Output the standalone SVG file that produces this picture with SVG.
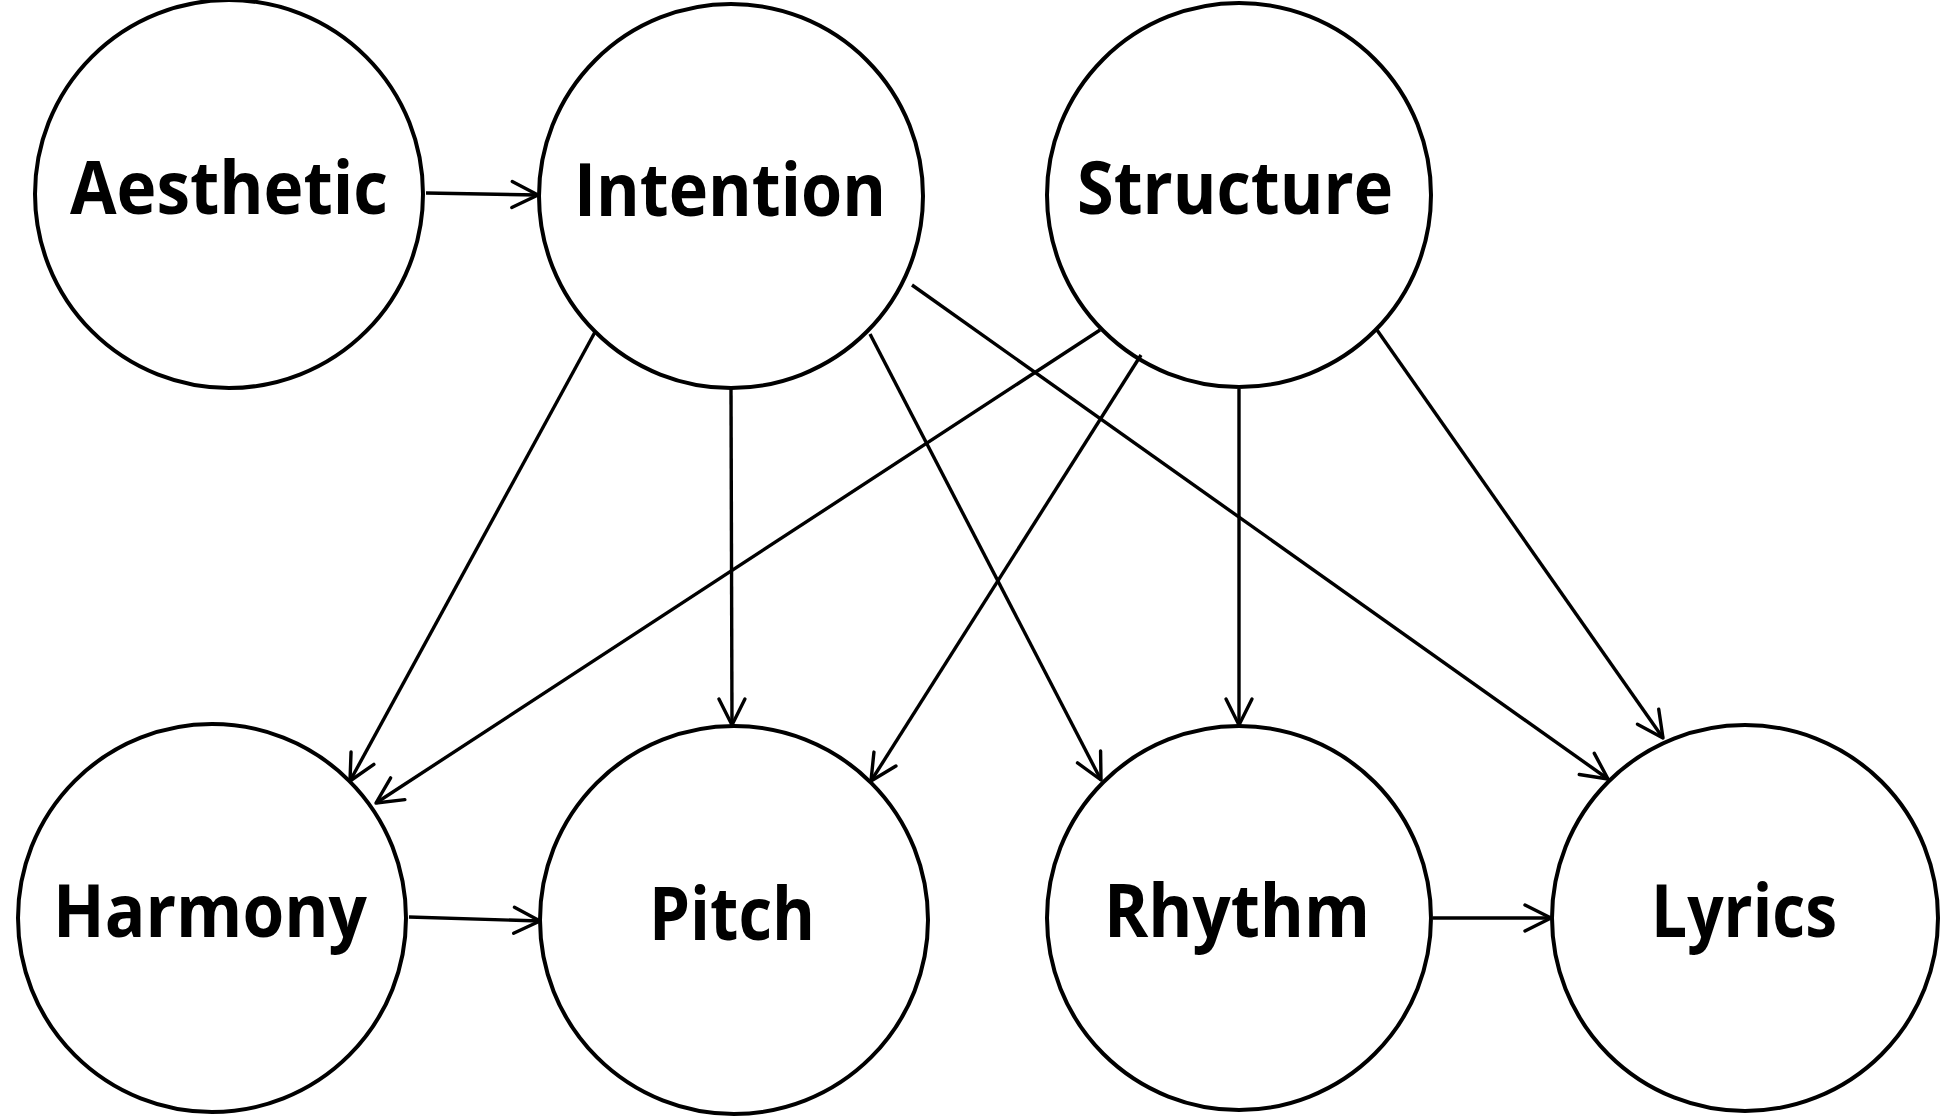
<svg xmlns="http://www.w3.org/2000/svg" width="1941" height="1116" viewBox="0 0 1941 1116">
<style>
.node circle{fill:#fff;stroke:#000;stroke-width:4}
.node text{font-family:"Open Sans","Noto Sans","Liberation Sans",sans-serif;font-weight:700;font-size:74px;fill:#000;text-anchor:middle}
.edge{fill:none;stroke:#000;stroke-width:3.4;marker-end:url(#arr)}
</style>
<defs>
<marker id="arr" markerUnits="userSpaceOnUse" markerWidth="40" markerHeight="40" refX="0" refY="0" orient="auto" viewBox="-30 -20 40 40" overflow="visible">
<path d="M-26,-13 L0,0 L-26,13" fill="none" stroke="#000" stroke-width="3.4" stroke-linejoin="round" stroke-linecap="round"/>
</marker>
</defs>
<rect width="1941" height="1116" fill="#fff"/>
<g id="aesthetic" class="node"><circle cx="229" cy="194" r="194"/><text x="229" y="214" textLength="318" lengthAdjust="spacingAndGlyphs">Aesthetic</text></g>
<g id="intention" class="node"><circle cx="731" cy="196" r="192"/><text x="730" y="216" textLength="312" lengthAdjust="spacingAndGlyphs">Intention</text></g>
<g id="structure" class="node"><circle cx="1239" cy="195" r="192"/><text x="1235" y="214" textLength="316" lengthAdjust="spacingAndGlyphs">Structure</text></g>
<g id="harmony" class="node"><circle cx="212" cy="918" r="194"/><text x="210" y="937" textLength="314" lengthAdjust="spacingAndGlyphs">Harmony</text></g>
<g id="pitch" class="node"><circle cx="734" cy="920" r="194"/><text x="732" y="940" textLength="166" lengthAdjust="spacingAndGlyphs">Pitch</text></g>
<g id="rhythm" class="node"><circle cx="1239" cy="918" r="192"/><text x="1237" y="937" textLength="266" lengthAdjust="spacingAndGlyphs">Rhythm</text></g>
<g id="lyrics" class="node"><circle cx="1745" cy="918" r="193"/><text x="1744" y="937" textLength="186" lengthAdjust="spacingAndGlyphs">Lyrics</text></g>
<g id="connectors">
<path class="edge" d="M426,193 L538,195"/>
<path class="edge" d="M595,332 L350,781"/>
<path class="edge" d="M731,389 L732,725"/>
<path class="edge" d="M870,334 L1101,780"/>
<path class="edge" d="M912,285 L1608,779"/>
<path class="edge" d="M1100,330 L376,803"/>
<path class="edge" d="M1141,355 L871,781"/>
<path class="edge" d="M1239,389 L1239,725"/>
<path class="edge" d="M1377,330 L1663,738"/>
<path class="edge" d="M409,917 L540,921"/>
<path class="edge" d="M1433,918 L1551,918"/>
</g>
</svg>
